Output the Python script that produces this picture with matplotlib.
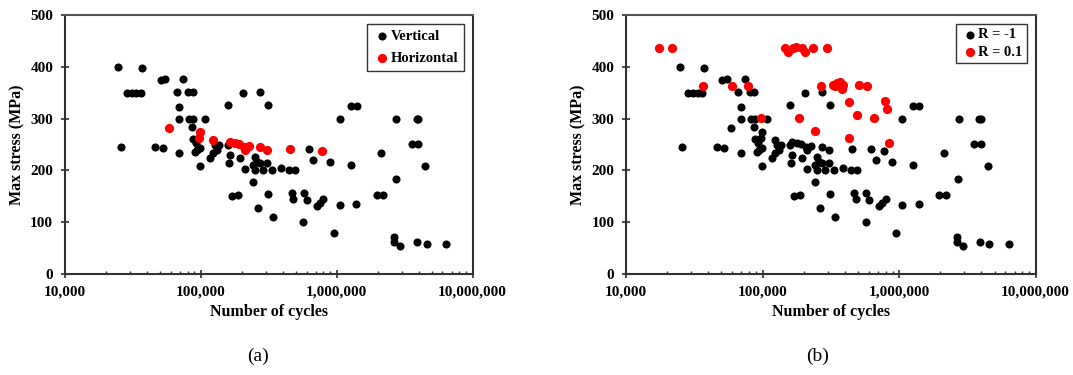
import matplotlib
matplotlib.use("Agg")
import matplotlib.pyplot as plt
from matplotlib.ticker import FixedLocator, LogLocator, NullFormatter, FuncFormatter

# ---- data ----
vert_cycles = [24800, 37200, 25800, 28600, 31100, 33400, 36200, 50800, 54600, 74500,
               66600, 81000, 87300, 69600, 69600, 82400, 88300, 107600, 85900, 46100,
               52600, 69600, 88300, 92300, 98900, 90800, 94400, 98900, 117000, 124000,
               131000, 137000, 127000, 160000, 164000, 162000, 157700, 194500, 212000, 203600,
               273000, 314000, 250000, 258000, 273000, 244000, 250000, 289000, 306000, 241000,
               332000, 387000, 448000, 493000, 169000, 187000, 314000, 265000, 338000, 466000,
               480000, 575000, 601000, 569000, 625000, 673000, 713000, 754000, 800000, 893000,
               955000, 1057000, 1057000, 1267000, 1267000, 1400000, 1390000, 2120000, 2730000, 3870000,
               3980000, 3560000, 3980000, 4460000, 2720000, 1970000, 2200000, 2640000, 2640000, 2920000,
               3920000, 4590000, 6330000]
vert_stress = [400, 398, 246, 350, 350, 350, 350, 374, 376, 376,
               351, 351, 351, 323, 300, 300, 300, 300, 283, 246,
               243, 233, 260, 252, 243, 236, 239, 208, 223, 233,
               239, 249, 249, 249, 230, 214, 326, 223, 202, 349,
               351, 326, 226, 217, 214, 210, 201, 201, 214, 178,
               201, 204, 201, 201, 151, 152, 154, 127, 111, 157,
               144, 156, 143, 101, 241, 220, 132, 138, 145, 216,
               80, 133, 300, 210, 325, 325, 135, 234, 300, 300,
               300, 251, 251, 208, 183, 152, 152, 72, 62, 55,
               62, 58, 57]

horiz_cycles = [58700, 98900, 97800, 124000, 164000, 179000, 192000, 208000, 212000, 228000,
                273000, 305000, 454000, 776000]
horiz_stress = [281, 275, 262, 259, 255, 253, 251, 245, 239, 247,
                245, 239, 241, 238]

r01_cycles = [17500, 21600, 36700, 59300, 78500, 97300, 147000, 154000, 166000, 177000,
              193000, 204000, 234000, 294000, 184000, 244000, 267000, 329000, 348000, 368000,
              379000, 338000, 387000, 428000, 428000, 506000, 586000, 488000, 656000, 795000,
              817000, 845000]
r01_stress = [436, 436, 363, 363, 362, 302, 437, 429, 436, 439,
              436, 428, 436, 436, 302, 277, 362, 365, 368, 371,
              358, 362, 364, 333, 263, 365, 363, 307, 302, 334,
              318, 252]

rm1_cycles = vert_cycles + horiz_cycles
rm1_stress = vert_stress + horiz_stress

y_ticks = [0, 100, 200, 300, 400, 500]
x_ticks = [1e4, 1e5, 1e6, 1e7]

plt.rcParams['font.family'] = ['Liberation Serif', 'DejaVu Serif']

fig = plt.figure(figsize=(10.73, 3.75), dpi=100)
ax1 = fig.add_axes([0.0603, 0.2693, 0.3802, 0.6907])
ax2 = fig.add_axes([0.5834, 0.2693, 0.3818, 0.6907])

spine_col = '#303030'

def style(ax):
    ax.set_xscale('log')
    ax.set_xlim(1e4, 1e7)
    ax.set_ylim(0, 500)
    ax.xaxis.set_major_locator(FixedLocator(x_ticks))
    ax.xaxis.set_minor_locator(LogLocator(base=10, subs=range(2, 10)))
    ax.xaxis.set_minor_formatter(NullFormatter())
    ax.xaxis.set_major_formatter(FuncFormatter(lambda v, p: f"{int(round(v)):,}"))
    ax.yaxis.set_major_locator(FixedLocator(y_ticks))
    ax.tick_params(axis='both', which='major', direction='inout', length=6, width=1.2,
                   color=spine_col, labelsize=11, pad=5.3)
    ax.tick_params(axis='x', which='minor', direction='in', length=2.5, width=1, color=spine_col)
    for lab in ax.get_xticklabels() + ax.get_yticklabels():
        lab.set_fontweight('bold')
    for s in ax.spines.values():
        s.set_color(spine_col)
        s.set_linewidth(1.5)
    ax.spines['top'].set_color('#555555')
    ax.set_xlabel('Number of cycles', fontsize=11.5, fontweight='bold', labelpad=4)
    ax.set_ylabel('Max stress (MPa)', fontsize=11.5, fontweight='bold', labelpad=3.5)

# (a)
ax1.scatter(vert_cycles, vert_stress, s=34, color='black', label='Vertical', zorder=3, linewidths=0)
ax1.scatter(horiz_cycles, horiz_stress, s=44, color='#FF0000', label='Horizontal', zorder=4, linewidths=0)
style(ax1)
leg1 = ax1.legend(loc='upper right', frameon=True, fancybox=False,
                  edgecolor='black', handletextpad=0.0, handlelength=1.2,
                  borderpad=0.4, labelspacing=0.6, borderaxespad=0.6, prop={'weight': 'bold', 'size': 10.5})
leg1.get_frame().set_linewidth(1.0)

# (b)
ax2.scatter(rm1_cycles, rm1_stress, s=34, color='black', label='R = -1', zorder=3, linewidths=0)
ax2.scatter(r01_cycles, r01_stress, s=44, color='#FF0000', label='R = 0.1', zorder=4, linewidths=0)
style(ax2)
leg2 = ax2.legend(loc='upper right', frameon=True, fancybox=False,
                  edgecolor='black', handletextpad=0.0, handlelength=1.2,
                  borderpad=0.3, labelspacing=0.3, borderaxespad=0.6, prop={'weight': 'bold', 'size': 10.5})
leg2.get_frame().set_linewidth(1.0)

fig.text(0.2405, 0.05, '(a)', ha='center', va='center', fontsize=14)
fig.text(0.762, 0.05, '(b)', ha='center', va='center', fontsize=14)

fig.savefig('out.png', dpi=100)
